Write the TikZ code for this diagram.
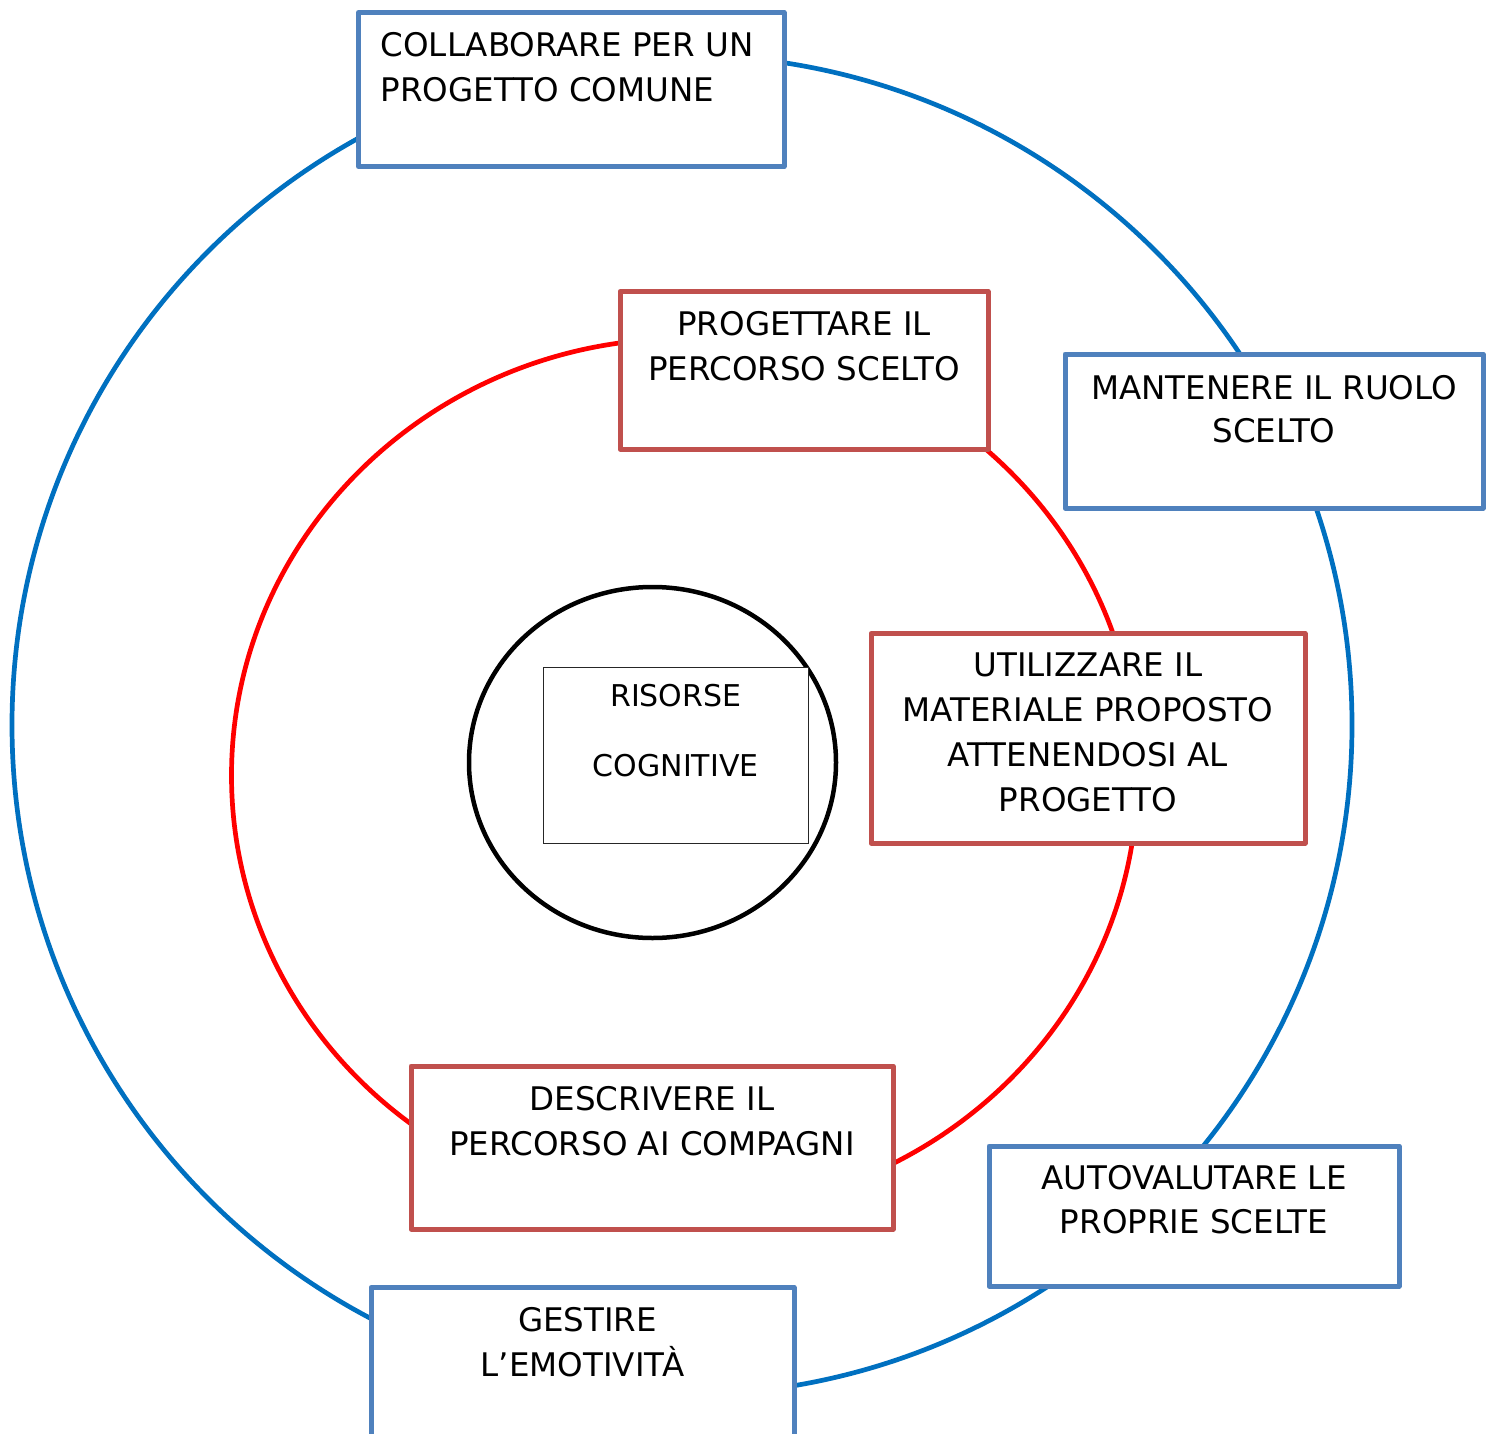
\documentclass[tikz,border=0pt]{standalone}
\usepackage{fontspec}
\setmainfont{DejaVu Sans}
\definecolor{ringblue}{HTML}{0070C0}
\definecolor{boxblue}{HTML}{4F81BD}
\definecolor{ringred}{HTML}{FF0000}
\definecolor{boxred}{HTML}{C0504D}
\newcommand{\topstrut}{\rule{0pt}{31pt}}
\tikzset{
  ring/.style={line width=4.7pt},
  boxbase/.style={rectangle, inner sep=0pt, fill=white, line width=5pt, line join=round},
  bluebox/.style={boxbase, draw=boxblue},
  redbox/.style={boxbase, draw=boxred},
  thinbox/.style={rectangle, inner sep=0pt, fill=white, draw=black!85, line width=1pt},
  txt/.style={inner sep=0pt, anchor=north, align=center, font=\fontsize{32.5}{44.5}\selectfont},
}
\begin{document}
\begin{tikzpicture}[x=1pt, y=-1pt]
\useasboundingbox (0,0) rectangle (1488,1434);
\fill[white] (0,0) rectangle (1488,1434);

% rings
\draw[ring, draw=ringblue] (682,725) circle [radius=670pt];
\draw[ring, draw=ringred] (684.5,775.5) ellipse [x radius=453pt, y radius=437pt];
\draw[line width=4.5pt, draw=black] (652.5,762.5) ellipse [x radius=183.5pt, y radius=175.5pt];

% outer (blue) boxes
\node[bluebox, minimum width=425.5pt, minimum height=154pt] (b1) at (571.25,89.5) {};
\node[bluebox, minimum width=418pt, minimum height=154pt] (b2) at (1274,431) {};
\node[bluebox, minimum width=410pt, minimum height=140pt] (b3) at (1194,1216) {};
\node[bluebox, minimum width=423pt, minimum height=172.5pt] (b4) at (582.5,1373.75) {};

% inner (red) boxes
\node[redbox, minimum width=368pt, minimum height=157.5pt] (r1) at (804,370.25) {};
\node[redbox, minimum width=434pt, minimum height=209.5pt] (r2) at (1088,738.25) {};
\node[redbox, minimum width=482pt, minimum height=163pt] (r3) at (652,1147.5) {};

% centre box
\node[thinbox, minimum width=264.5pt, minimum height=175.8pt] (c1) at (675.75,755.4) {};

% texts
\node[txt, anchor=north west, align=left] (t1) at (380.5,25.7) {\topstrut COLLABORARE PER UN\\PROGETTO COMUNE};
\node[txt, font=\fontsize{32.5}{43.4}\selectfont] (t2) at (1274,368.3) {\topstrut MANTENERE IL RUOLO\\SCELTO};
\node[txt, font=\fontsize{32.5}{44.3}\selectfont] (t3) at (1194,1158) {\topstrut AUTOVALUTARE LE\\PROPRIE SCELTE};
\node[txt, font=\fontsize{32.5}{44.3}\selectfont] (t4) at (582.5,1300.7) {\topstrut\kern10pt GESTIRE\\L’EMOTIVITÀ};
\node[txt, font=\fontsize{32.5}{45}\selectfont] (t5) at (804,304) {\topstrut PROGETTARE IL\\PERCORSO SCELTO};
\node[txt, font=\fontsize{32.5}{45}\selectfont] (t6) at (1088,645.7) {\topstrut UTILIZZARE IL\\MATERIALE PROPOSTO\\ATTENENDOSI AL\\PROGETTO};
\node[txt, font=\fontsize{32.5}{45}\selectfont] (t7) at (652,1079) {\topstrut DESCRIVERE IL\\PERCORSO AI COMPAGNI};
\node[txt, font=\fontsize{30}{70}\selectfont] (t8) at (675.75,678) {\rule{0pt}{28pt}RISORSE\\COGNITIVE};
\end{tikzpicture}
\end{document}
